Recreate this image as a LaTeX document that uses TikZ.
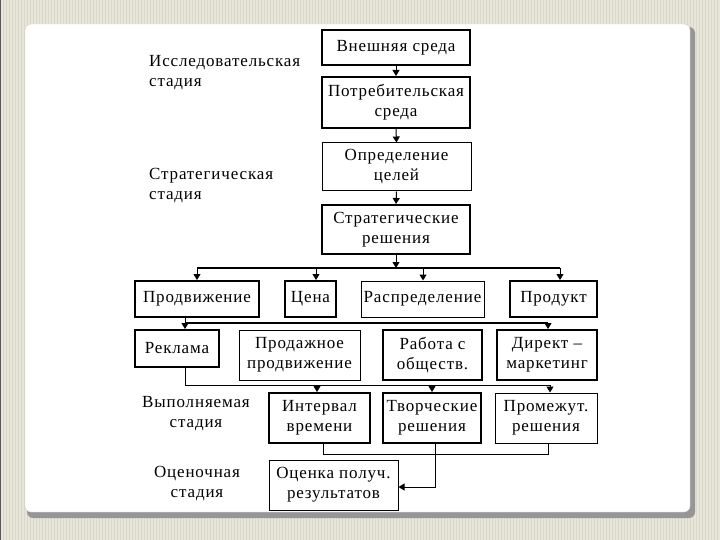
\documentclass[tikz,border=0pt]{standalone}
\usepackage{fontspec}
\setmainfont{Liberation Serif}[LetterSpace=5]
\usetikzlibrary{arrows.meta}
\definecolor{beige}{RGB}{232,230,217}
\definecolor{stripe}{RGB}{218,216,202}
\definecolor{shadow}{RGB}{150,150,150}
\begin{document}
\begin{tikzpicture}[x=1pt,y=-1pt,
  txt/.style={font=\fontsize{17}{20}\selectfont, text=black},
  box/.style={txt, draw, line width=1pt, align=center, inner sep=0pt},
  tbox/.style={box, line width=2pt},
  lbl/.style={txt, inner sep=0pt},
  arr/.style={-{Triangle[width=7pt,length=6pt]}, line width=1pt},
  bus/.style={line width=2pt},
  wire/.style={line width=1pt}]
\useasboundingbox (0,0) rectangle (720,540);
% background
\fill[beige] (0,0) rectangle (720,540);
\foreach \i in {0,3,...,720} {\draw[stripe, line width=0.8pt] (\i,0) -- (\i,540);}
\draw[gray!70!black, line width=1.2pt] (0.6,0) -- (0.6,540);
\fill[shadow, rounded corners=6pt] (27,27) rectangle (695,518);
\fill[white, rounded corners=6pt, draw=gray!35] (25,24) rectangle (690,512);

% stage labels
\node[lbl, align=left, anchor=north west] (s1) at (149,55) {Исследовательская\\стадия};
\node[lbl, align=left, anchor=north west] (s2) at (149,168) {Стратегическая\\стадия};
\node[lbl, align=center] (s3) at (196,414) {Выполняемая\\стадия};
\node[lbl, align=center] (s4) at (197,484) {Оценочная\\стадия};

% column boxes
\node[tbox, minimum width=148, minimum height=35] (ext) at (396,47.5) {Внешняя среда};
\node[tbox, minimum width=148, minimum height=51] (cons) at (396,102.5) {Потребительская\\среда};
\node[box, minimum width=149, minimum height=48] (goal) at (396.5,167) {Определение\\целей};
\node[tbox, minimum width=148, minimum height=49] (strat) at (396,229.5) {Стратегические\\решения};

% row 1
\node[tbox, minimum width=124, minimum height=36] (prom) at (197,299) {Продвижение};
\node[tbox, minimum width=51, minimum height=36] (price) at (310.5,299) {Цена};
\node[box, minimum width=123, minimum height=36] (dist) at (422.5,299) {Распределение};
\node[tbox, minimum width=87, minimum height=36] (prod) at (553.5,299) {Продукт};

% row 2
\node[tbox, minimum width=84, minimum height=37] (ad) at (177,348.5) {Реклама};
\node[box, minimum width=121, minimum height=50] (sales) at (299.5,355) {Продажное\\продвижение};
\node[tbox, minimum width=99, minimum height=50] (pr) at (432.5,355) {Работа с\\обществ.};
\node[tbox, minimum width=100, minimum height=50] (dm) at (547,355) {Директ –\\маркетинг};

% row 3
\node[tbox, minimum width=101, minimum height=50] (int) at (319.5,418) {Интервал\\времени};
\node[tbox, minimum width=98, minimum height=50] (cre) at (432,418) {Творческие\\решения};
\node[box, minimum width=102, minimum height=50] (mid) at (546,418) {Промежут.\\решения};

% evaluation
\node[box, minimum width=129, minimum height=50] (eval) at (333.5,485) {Оценка получ.\\результатов};

% vertical chain
\draw[arr] (ext.south) -- (cons.north);
\draw[arr] (cons.south) -- (goal.north);
\draw[arr] (goal.south) -- (strat.north);

% bus 1
\coordinate (b0) at (396,268);
\coordinate (b1) at (197,268);
\coordinate (b2) at (316,268);
\coordinate (b3) at (423,268);
\coordinate (b4) at (560,268);
\draw[arr] (strat.south) -- (b0);
\draw[bus] (b1) -- (b4);
\draw[arr] (b1) -- (b1 |- prom.north);
\draw[arr] (b2) -- (b2 |- price.north);
\draw[arr] (b3) -- (b3 |- dist.north);
\draw[arr] (b4) -- (b4 |- prod.north);

% bus 2
\coordinate (c1) at (185,323);
\coordinate (c2) at (548,323);
\draw[wire] (c1 |- prom.south) -- (c1);
\draw[bus] (c1) -- (c2);
\draw[arr] (c1) -- (c1 |- ad.north);
\draw[arr] (c2) -- (c2 |- dm.north);

% bus 3
\coordinate (d0) at (185,385);
\coordinate (d1) at (317,385);
\coordinate (d2) at (432,385);
\coordinate (d3) at (550,385);
\draw[wire] (d0 |- ad.south) -- (d0) -- (d3);
\draw[arr] (d1) -- (d1 |- int.north);
\draw[arr] (d2) -- (d2 |- cre.north);
\draw[arr] (d3) -- (d3 |- mid.north);

% bus 4
\coordinate (e1) at (323,454);
\coordinate (e2) at (435,454);
\coordinate (e3) at (548,454);
\coordinate (e4) at (435,487);
\draw[wire] (e1 |- int.south) -- (e1) -- (e3) -- (e3 |- mid.south);
\draw[wire] (e2 |- cre.south) -- (e2);
\draw[arr] (e2) -- (e4) -- (eval.east |- e4);
\end{tikzpicture}
\end{document}
